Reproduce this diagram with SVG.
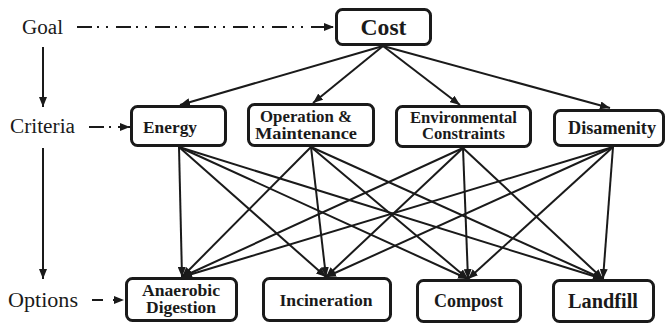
<svg xmlns="http://www.w3.org/2000/svg" width="669" height="326" viewBox="0 0 669 326">
<style>
.box{fill:#fff;stroke:#1a1a1a;stroke-width:3}
text{font-family:'Liberation Serif','DejaVu Serif',serif;fill:#1a1a1a}
.lbl{font-weight:bold;text-anchor:middle}
.side{font-size:20px}
.con{stroke:#1a1a1a;stroke-width:2;fill:none;marker-end:url(#ah)}
.dd{stroke-dasharray:15 5 2 7 2 8}
</style>
<defs>
<marker id="ah" markerUnits="userSpaceOnUse" viewBox="0 0 10 8" refX="10" refY="4" markerWidth="10" markerHeight="8" orient="auto">
<path d="M0,0 L10,4 L0,8 z" fill="#1a1a1a"/>
</marker>
</defs>
<g id="labels">
<text class="side" x="22" y="34" textLength="41" lengthAdjust="spacingAndGlyphs">Goal</text>
<text class="side" x="10" y="133" textLength="65" lengthAdjust="spacingAndGlyphs">Criteria</text>
<text class="side" x="8" y="307" textLength="70" lengthAdjust="spacingAndGlyphs">Options</text>
</g>
<g id="connectors">
<line class="con" x1="43" y1="47" x2="43" y2="107"/>
<line class="con" x1="43" y1="148" x2="43" y2="279"/>
<line class="con dd" x1="77" y1="27" x2="334" y2="27"/>
<line class="con dd" x1="89" y1="127" x2="130" y2="127"/>
<line class="con" style="stroke-dasharray:11 10 2 20" x1="92" y1="300" x2="124" y2="300"/>
<line class="con" x1="383" y1="46" x2="180" y2="105"/>
<line class="con" x1="383" y1="46" x2="313" y2="103"/>
<line class="con" x1="383" y1="46" x2="460" y2="105"/>
<line class="con" x1="383" y1="46" x2="610" y2="108"/>
<line class="con" x1="179" y1="147" x2="182" y2="277"/>
<line class="con" x1="179" y1="147" x2="326" y2="277"/>
<line class="con" x1="179" y1="147" x2="468" y2="279"/>
<line class="con" x1="179" y1="147" x2="603" y2="279"/>
<line class="con" x1="311" y1="147" x2="182" y2="277"/>
<line class="con" x1="311" y1="147" x2="326" y2="277"/>
<line class="con" x1="311" y1="147" x2="468" y2="279"/>
<line class="con" x1="311" y1="147" x2="603" y2="279"/>
<line class="con" x1="463" y1="148" x2="182" y2="277"/>
<line class="con" x1="463" y1="148" x2="326" y2="277"/>
<line class="con" x1="463" y1="148" x2="468" y2="279"/>
<line class="con" x1="463" y1="148" x2="603" y2="279"/>
<line class="con" x1="613" y1="147" x2="182" y2="277"/>
<line class="con" x1="613" y1="147" x2="326" y2="277"/>
<line class="con" x1="613" y1="147" x2="468" y2="279"/>
<line class="con" x1="613" y1="147" x2="603" y2="279"/>
</g>
<g id="cost"><rect class="box" x="336.5" y="9.5" width="94" height="35" rx="6"/><text class="lbl" x="383.5" y="35" font-size="23" textLength="46" lengthAdjust="spacingAndGlyphs">Cost</text></g>
<g id="energy"><rect class="box" x="131.5" y="106.5" width="94" height="39" rx="6"/><text class="lbl" x="170" y="133" font-size="17" textLength="54" lengthAdjust="spacingAndGlyphs">Energy</text></g>
<g id="operation"><rect class="box" x="248.5" y="104.5" width="125" height="41" rx="6"/><text class="lbl" x="306" y="122" font-size="16" textLength="92" lengthAdjust="spacingAndGlyphs">Operation &amp;</text><text class="lbl" x="306" y="138.5" font-size="16" textLength="102" lengthAdjust="spacingAndGlyphs">Maintenance</text></g>
<g id="environmental"><rect class="box" x="396.5" y="106.5" width="134" height="40" rx="6"/><text class="lbl" x="463.5" y="122.5" font-size="16" textLength="107" lengthAdjust="spacingAndGlyphs">Environmental</text><text class="lbl" x="463.5" y="139" font-size="16" textLength="83" lengthAdjust="spacingAndGlyphs">Constraints</text></g>
<g id="disamenity"><rect class="box" x="554.5" y="110.5" width="109" height="35" rx="6"/><text class="lbl" x="612" y="134" font-size="18" textLength="88" lengthAdjust="spacingAndGlyphs">Disamenity</text></g>
<g id="anaerobic"><rect class="box" x="126.5" y="278.5" width="110" height="42" rx="6"/><text class="lbl" x="181" y="295.5" font-size="16.5" textLength="78" lengthAdjust="spacingAndGlyphs">Anaerobic</text><text class="lbl" x="181" y="313" font-size="16.5" textLength="70" lengthAdjust="spacingAndGlyphs">Digestion</text></g>
<g id="incineration"><rect class="box" x="263.5" y="278.5" width="127" height="42" rx="6"/><text class="lbl" x="326" y="306" font-size="17.5" textLength="93" lengthAdjust="spacingAndGlyphs">Incineration</text></g>
<g id="compost"><rect class="box" x="417.5" y="280.5" width="103" height="41" rx="6"/><text class="lbl" x="468.5" y="307" font-size="18" textLength="69" lengthAdjust="spacingAndGlyphs">Compost</text></g>
<g id="landfill"><rect class="box" x="553.5" y="280.5" width="100" height="41" rx="6"/><text class="lbl" x="603" y="308" font-size="20" textLength="70" lengthAdjust="spacingAndGlyphs">Landfill</text></g>
</svg>
